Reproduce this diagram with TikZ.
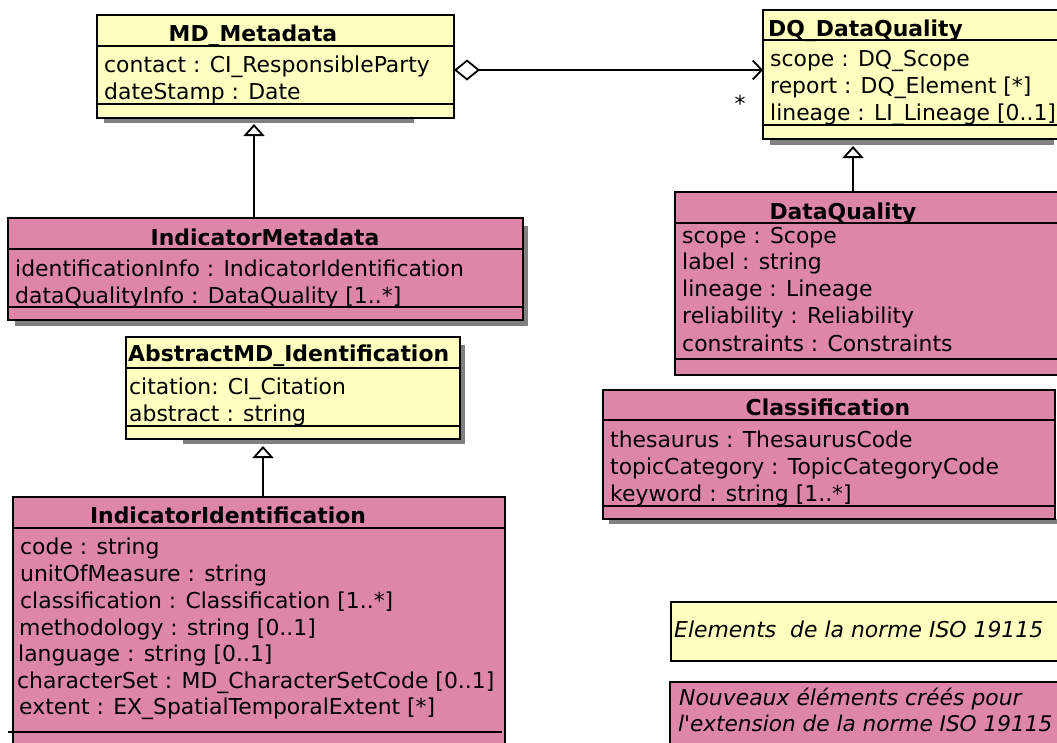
\documentclass[tikz,border=0pt]{standalone}
\usepackage{fontspec}
\setmainfont{DejaVu Sans}
\usetikzlibrary{arrows.meta}
\definecolor{umlyellow}{RGB}{255,255,192}
\definecolor{umlpink}{RGB}{221,134,168}
\definecolor{shadowgray}{RGB}{128,128,128}
\begin{document}
\begin{tikzpicture}[x=1pt,y=-1pt,
  font=\fontsize{21.9}{26}\selectfont,
  box/.style={draw, line width=1.9pt, anchor=north west, inner sep=0pt, outer sep=0pt},
  yelbox/.style={box, fill=umlyellow},
  pinkbox/.style={box, fill=umlpink},
  attr/.style={anchor=base west, inner sep=0pt},
  ttl/.style={anchor=base, inner sep=0pt, font=\fontsize{21.9}{26}\selectfont\bfseries},
  ttlw/.style={anchor=base west, inner sep=0pt, font=\fontsize{21.9}{26}\selectfont\bfseries},
  sep/.style={line width=1.9pt},
  shadowbox/.style={fill=shadowgray},
  gen/.style={line width=1.8pt, -{Triangle[open,length=12pt,width=21pt]}},
  agg/.style={line width=1.8pt, {Diamond[open,length=26pt,width=21pt]}-{Straight Barb[length=9pt,width=19pt]}}]
\useasboundingbox (0,0) rectangle (1057,742);

% shadows
\fill[shadowbox] (104,118) rectangle (414,123);
\fill[shadowbox] (770,139) rectangle (1054,145);
\fill[shadowbox] (523,226) rectangle (528,326);
\fill[shadowbox] (15,320) rectangle (528,326);
\fill[shadowbox] (460,345) rectangle (465,444);
\fill[shadowbox] (183,439) rectangle (465,444);
\fill[shadowbox] (609,519) rectangle (1057,524);

% MD_Metadata
\node[yelbox, minimum width=357pt, minimum height=103pt] (md) at (97,15) {};
\node[ttl] (mdt) at (253,41) {MD\_Metadata};
\draw[sep] (97,46) -- (454,46);
\node[attr] (md1) at (104,72) {contact : CI\_ResponsibleParty};
\node[attr] (md2) at (104,99) {dateStamp : Date};
\draw[sep] (97,104) -- (454,104);

% DQ_DataQuality
\node[yelbox, minimum width=300pt, minimum height=129pt] (dq) at (763,10) {};
\node[ttlw] (dqt) at (768,36) {DQ\_DataQuality};
\draw[sep] (763,40) -- (1057,40);
\node[attr] (dq1) at (770,66) {scope : DQ\_Scope};
\node[attr] (dq2) at (770,93) {report : DQ\_Element [*]};
\node[attr] (dq3) at (770,120) {lineage : LI\_Lineage [0..1]};
\draw[sep] (763,125) -- (1057,125);

% IndicatorMetadata
\node[pinkbox, minimum width=515pt, minimum height=102pt] (im) at (8,218) {};
\node[ttl] (imt) at (265,245) {IndicatorMetadata};
\draw[sep] (8,249) -- (523,249);
\node[attr] (im1) at (15,276) {identificationInfo : IndicatorIdentification};
\node[attr] (im2) at (15,303) {dataQualityInfo : DataQuality [1..*]};
\draw[sep] (8,307) -- (523,307);

% AbstractMD_Identification
\node[yelbox, minimum width=334pt, minimum height=102pt] (ab) at (126,337) {};
\node[ttlw] (abt) at (128,361) {AbstractMD\_Identification};
\draw[sep] (126,368) -- (460,368);
\node[attr] (ab1) at (129,394) {citation: CI\_Citation};
\node[attr] (ab2) at (129,421) {abstract : string};
\draw[sep] (126,426) -- (460,426);

% IndicatorIdentification
\node[pinkbox, minimum width=492pt, minimum height=270pt] (ii) at (13,497) {};
\node[ttl] (iit) at (228,523) {IndicatorIdentification};
\draw[sep] (13,528) -- (505,528);
\node[attr] (ii1) at (20,554) {code : string};
\node[attr] (ii2) at (20,581) {unitOfMeasure : string};
\node[attr] (ii3) at (20,608) {classification : Classification [1..*]};
\node[attr] (ii4) at (19,635) {methodology : string [0..1]};
\node[attr] (ii5) at (18,661) {language : string [0..1]};
\node[attr] (ii6) at (17,688) {characterSet : MD\_CharacterSetCode [0..1]};
\node[attr] (ii7) at (19,714) {extent : EX\_SpatialTemporalExtent [*]};
\draw[sep] (8,732) -- (502,732);

% DataQuality
\node[pinkbox, minimum width=390pt, minimum height=183pt] (dql) at (675,192) {};
\node[ttl] (dqlt) at (843,219) {DataQuality};
\draw[sep] (675,223) -- (1057,223);
\node[attr] (dql1) at (682,243) {scope : Scope};
\node[attr] (dql2) at (682,269) {label : string};
\node[attr] (dql3) at (682,296) {lineage : Lineage};
\node[attr] (dql4) at (682,323) {reliability : Reliability};
\node[attr] (dql5) at (682,351) {constraints : Constraints};
\draw[sep] (675,359) -- (1057,359);

% Classification
\node[pinkbox, minimum width=452pt, minimum height=129pt] (cl) at (603,390) {};
\node[ttl] (clt) at (828,415) {Classification};
\draw[sep] (603,420) -- (1055,420);
\node[attr] (cl1) at (610,447) {thesaurus : ThesaurusCode};
\node[attr] (cl2) at (610,474) {topicCategory : TopicCategoryCode};
\node[attr] (cl3) at (610,501) {keyword : string [1..*]};
\draw[sep] (603,506) -- (1055,506);

% Legend
\node[box, fill=umlyellow, line width=1.5pt, minimum width=400pt, minimum height=59pt] (lg1) at (671,602) {};
\node[attr, font=\fontsize{21.9}{26}\selectfont\itshape] (lg1t) at (674,637) {Elements\ \ de la norme ISO 19115};
\node[box, fill=umlpink, line width=1.5pt, minimum width=400pt, minimum height=80pt] (lg2) at (670,682) {};
\node[attr, font=\fontsize{21.9}{26}\selectfont\itshape] (lg2a) at (679,705) {Nouveaux éléments créés pour};
\node[attr, font=\fontsize{21.6}{26}\selectfont\itshape] (lg2b) at (678,731) {l\textquotesingle extension de la norme ISO 19115};

% connectors
\coordinate (g1) at (254,124);
\coordinate (g2) at (263,446);
\coordinate (g3) at (853,146);
\coordinate (a1) at (0,70);
\draw[gen] (im.north -| g1) -- (g1);
\draw[gen] (ii.north -| g2) -- (g2);
\draw[gen] (dql.north -| g3) -- (g3);
\draw[agg] (md.east |- a1) -- (dq.west |- a1);
\node[inner sep=0pt, anchor=base] (star) at (740,111) {*};
\end{tikzpicture}
\end{document}
